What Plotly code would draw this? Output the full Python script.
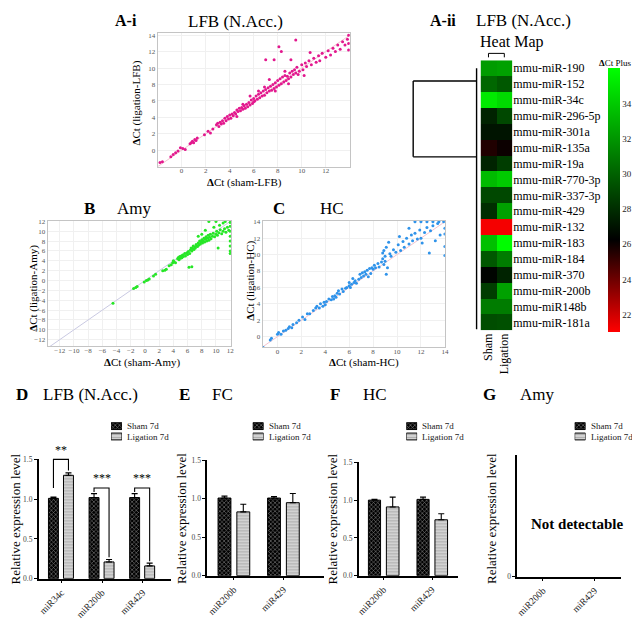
import plotly.graph_objects as go

W, H = 640, 619
FONT = "Liberation Serif, Times New Roman, serif"

# ---------------- data ----------------
# Panel A-i: LFB (N.Acc.)  (sham dCt, ligation dCt)
lfb_points = [
    (-1.8, -1.5), (-1.6, -1.4), (-0.9, -0.8), (-0.7, -0.5), (-0.5, -0.3), (-0.3, -0.1),
    (-0.1, 0.3), (0.1, 0.2), (0.3, 0.1), (0.7, 0.8), (0.8, 0.9), (0.9, 1.1), (1.0, 0.9),
    (1.1, 1.3), (1.2, 1.2), (1.3, 1.5), (1.9, 1.9), (2.2, 2.3), (2.4, 2.1), (2.6, 2.6),
    (2.9, 3.1), (3.0, 3.3), (3.1, 2.9), (3.2, 3.4), (3.3, 3.2), (3.4, 3.6), (3.5, 3.3),
    (3.6, 3.9), (3.7, 3.6), (3.8, 4.1), (3.9, 3.8), (4.0, 4.3), (4.1, 3.9), (4.2, 4.4),
    (4.3, 4.2), (4.4, 4.6), (4.5, 4.4), (4.6, 4.9), (4.7, 4.7), (4.8, 5.1), (4.9, 4.8),
    (5.0, 5.2), (5.1, 5.0), (5.2, 5.4), (5.3, 5.1), (5.4, 5.6), (5.5, 5.3), (5.6, 5.8),
    (5.7, 5.5), (5.8, 6.1), (5.9, 5.7), (6.0, 6.3), (6.0, 5.9), (6.1, 6.0), (6.2, 6.6),
    (6.3, 6.2), (6.4, 6.8), (6.5, 6.4), (6.6, 7.0), (6.7, 6.6), (6.8, 7.2), (6.9, 6.7),
    (7.0, 7.4), (7.1, 7.0), (7.2, 7.6), (7.3, 7.2), (7.4, 7.8), (7.5, 7.3), (7.6, 8.0),
    (7.7, 7.5), (7.8, 8.2), (7.9, 7.7), (8.0, 8.5), (8.1, 7.9), (8.2, 8.7), (8.3, 8.1),
    (8.4, 8.9), (8.5, 8.3), (8.6, 9.1), (8.7, 8.5), (8.8, 9.0), (8.9, 8.7), (9.0, 9.4),
    (9.1, 8.9), (9.2, 9.6), (9.3, 9.2), (9.4, 9.8), (9.5, 9.4), (9.6, 10.1), (9.8, 9.6),
    (10.0, 10.4), (10.1, 9.8), (10.3, 10.6), (10.4, 10.2), (10.6, 10.9), (10.8, 10.4),
    (11.0, 11.2), (11.2, 10.7), (11.4, 11.5), (11.5, 10.9), (11.7, 11.8), (12.0, 11.3),
    (12.2, 12.1), (12.4, 11.6), (12.6, 12.4), (12.8, 12.0), (13.0, 12.8), (13.2, 12.3),
    (13.4, 13.2), (13.6, 12.8), (13.8, 13.5), (13.9, 13.0), (13.9, 14.0), (13.9, 12.2),
    (7.0, 11.0), (7.7, 11.0), (8.1, 12.6), (8.3, 12.0), (9.5, 13.4), (9.1, 11.0),
    (6.4, 7.2), (5.7, 6.6), (7.3, 8.6), (8.6, 9.6), (9.7, 9.2), (10.7, 11.9),
    (4.6, 4.1), (5.1, 5.6), (6.9, 7.7), (7.8, 7.2), (8.9, 8.1), (10.2, 9.1),
]

# Panel B: Amy
amy_points = [
    (-4.5, -4.6), (-1.6, -1.6), (-1.3, -1.4), (-1.1, -1.2), (-0.1, -0.3), (0.2, 0.0),
    (0.4, 0.1), (0.6, 0.3), (1.2, 0.9), (1.5, 1.3), (2.5, 2.0), (2.8, 2.1), (3.0, 2.3),
    (3.4, 3.0), (3.7, 3.2), (3.9, 3.6), (4.1, 3.8), (4.0, 4.0), (4.3, 3.6), (4.6, 4.4),
    (4.7, 4.7), (4.8, 4.2), (4.9, 4.9), (5.0, 4.5), (5.1, 5.0), (5.2, 4.6), (5.3, 5.2),
    (5.4, 4.9), (5.6, 5.5), (5.7, 5.0), (5.9, 5.6), (6.0, 5.3), (6.1, 5.9), (6.3, 5.5),
    (6.4, 6.2), (6.5, 6.6), (6.6, 6.0), (6.7, 6.5), (6.8, 7.0), (6.9, 6.3), (7.0, 6.8),
    (7.1, 6.6), (7.2, 7.3), (7.3, 7.0), (7.4, 6.9), (7.5, 7.6), (7.6, 7.2), (7.7, 8.0),
    (7.8, 7.4), (7.9, 7.8), (8.0, 8.3), (8.1, 7.6), (8.2, 8.0), (8.3, 8.6), (8.4, 7.8),
    (8.5, 8.4), (8.6, 8.9), (8.7, 8.0), (8.8, 8.6), (8.9, 9.2), (9.0, 8.2), (9.1, 8.8),
    (9.2, 9.4), (9.3, 8.5), (9.5, 9.0), (9.6, 9.6), (9.8, 8.9), (10.0, 9.4), (10.1, 10.0),
    (10.2, 9.2), (10.4, 9.7), (10.6, 10.3), (10.8, 9.5), (11.0, 10.0), (11.2, 10.5),
    (11.4, 9.8), (11.6, 10.8), (11.8, 10.2), (12.0, 11.0), (12.0, 10.0), (12.0, 9.0),
    (12.0, 8.0), (12.0, 7.0), (12.0, 6.0), (12.0, 5.5), (12.0, 11.8), (9.0, 12.0),
    (10.0, 12.0), (10.5, 11.2), (11.0, 11.7), (8.0, 9.4), (7.5, 9.0), (8.5, 10.2),
    (6.2, 2.7), (6.6, 2.8), (10.3, 6.6), (9.7, 10.8), (11.3, 12.0),
]

# Panel C: HC
hc_points = [
    (-1.2, -1.3), (-0.6, -0.4), (-0.5, -0.2), (0.0, 0.3), (0.1, 0.5), (0.3, 0.3),
    (0.5, 0.7), (0.7, 0.8), (0.9, 1.0), (1.0, 1.2), (1.2, 1.1), (1.3, 1.5), (1.6, 1.7),
    (1.8, 2.0), (2.1, 2.4), (2.3, 2.1), (2.5, 2.8), (2.7, 2.8), (3.0, 3.2), (3.2, 3.5),
    (3.3, 3.7), (3.5, 3.5), (3.6, 4.0), (3.8, 3.7), (3.9, 4.2), (4.0, 3.9), (4.1, 4.3),
    (4.3, 4.6), (4.5, 4.5), (4.6, 4.9), (4.7, 4.6), (4.8, 5.0), (4.9, 4.8), (5.0, 5.3),
    (5.1, 5.6), (5.2, 5.2), (5.4, 5.8), (5.5, 5.5), (5.7, 5.9), (5.8, 6.0), (6.0, 6.2),
    (6.0, 6.6), (6.1, 6.0), (6.2, 6.4), (6.3, 7.1), (6.4, 6.6), (6.5, 6.8), (6.6, 6.5),
    (6.8, 7.0), (6.9, 7.6), (7.0, 7.2), (7.1, 7.8), (7.2, 7.4), (7.3, 7.9), (7.4, 7.6),
    (7.5, 8.1), (7.6, 7.3), (7.7, 8.3), (7.8, 7.7), (7.9, 8.4), (8.0, 8.2), (8.1, 8.7),
    (8.2, 8.4), (8.4, 8.9), (8.5, 8.5), (8.7, 9.1), (8.8, 9.5), (8.8, 10.2), (8.9, 10.5),
    (8.9, 8.8), (9.0, 9.8), (9.0, 9.2), (9.1, 10.9), (9.1, 7.6), (9.2, 8.4), (9.3, 11.5),
    (9.4, 10.1), (9.5, 9.8), (9.7, 10.6), (9.9, 10.3), (10.1, 11.2), (10.3, 10.5),
    (10.5, 11.6), (10.6, 10.9), (10.8, 12.0), (11.0, 11.3), (11.2, 12.4), (11.3, 11.7),
    (11.5, 12.6), (11.7, 11.9), (11.9, 13.0), (12.1, 11.4), (12.3, 12.7), (12.5, 13.3),
    (12.7, 10.2), (12.8, 12.9), (13.0, 13.5), (13.2, 11.7), (13.4, 13.8), (13.6, 12.4),
    (13.9, 14.0), (14.0, 13.2), (14.0, 12.5), (14.0, 11.0), (14.0, 9.9), (11.5, 14.0),
    (12.0, 14.0), (12.5, 14.0), (13.0, 14.0), (13.5, 14.0), (11.0, 13.2), (10.2, 12.2),
    (12.0, 12.0),
]

# Panel A-ii: heat map (dCt Plus)
heat_mirs = ["mmu-miR-190", "mmu-miR-152", "mmu-miR-34c", "mmu-miR-296-5p", "mmu-miR-301a",
             "mmu-miR-135a", "mmu-miR-19a", "mmu-miR-770-3p", "mmu-miR-337-3p", "mmu-miR-429",
             "mmu-miR-132", "mmu-miR-183", "mmu-miR-184", "mmu-miR-370", "mmu-miR-200b",
             "mmu-miR148b", "mmu-miR-181a"]
heat_cols = ["Sham", "Ligation"]
heat_sham = [32.2, 30.2, 35.2, 27.6, 27.0, 25.6, 27.6, 33.4, 29.0, 28.0, 21.2, 33.6, 29.6,
             26.4, 28.6, 31.0, 29.2]
heat_lig = [32.4, 29.6, 34.6, 29.0, 27.0, 26.0, 28.6, 34.0, 29.0, 32.4, 21.2, 35.9, 31.0,
            27.6, 32.4, 31.0, 29.3]
heat_ticks = [22, 24, 26, 28, 30, 32, 34]

# Panels D-G: relative expression level
legend_labels = ["Sham 7d", "Ligation 7d"]

d_genes = ["miR34c", "miR200b", "miR429"]
d_sham = [1.01, 1.02, 1.02]
d_sham_err = [0.015, 0.05, 0.05]
d_lig = [1.30, 0.21, 0.16]
d_lig_err = [0.03, 0.03, 0.035]
d_stars = ["**", "***", "***"]

e_genes = ["miR200b", "miR429"]
e_sham = [1.01, 1.01]
e_sham_err = [0.025, 0.02]
e_lig = [0.83, 0.95]
e_lig_err = [0.10, 0.12]

f_genes = ["miR200b", "miR429"]
f_sham = [1.00, 1.01]
f_sham_err = [0.01, 0.03]
f_lig = [0.91, 0.74]
f_lig_err = [0.13, 0.08]

g_genes = ["miR200b", "miR429"]


# ---------------- helpers ----------------
def px_x(a, b):
    return [a / W, b / W]


def px_y(top, bottom):
    return [1 - bottom / H, 1 - top / H]


def unzip(pts):
    return [p[0] for p in pts], [p[1] for p in pts]


fig = go.Figure()

# ---------------- scatter panels ----------------
scatter_specs = [
    ("x", "y", lfb_points, "#e2188e", "#f3c3cf", (-2.0, 14.0)),
    ("x2", "y2", amy_points, "#26e626", "#c9c9e2", (-13.7, 12.1)),
    ("x3", "y3", hc_points, "#2f93ea", "#f3c3cf", (-1.26, 14.1)),
]
for xa, ya, pts, col, dcol, rng in scatter_specs:
    fig.add_trace(go.Scatter(x=list(rng), y=list(rng), mode="lines",
                             line=dict(color=dcol, width=1), xaxis=xa, yaxis=ya,
                             showlegend=False, hoverinfo="skip"))
    xs, ys = unzip(pts)
    fig.add_trace(go.Scatter(x=xs, y=ys, mode="markers",
                             marker=dict(color=col, size=3, line=dict(width=0)),
                             xaxis=xa, yaxis=ya, showlegend=False))

# ---------------- heat map ----------------
heat_z = [[s, l] for s, l in zip(heat_sham, heat_lig)]
fig.add_trace(go.Heatmap(
    z=heat_z, x=heat_cols, y=heat_mirs, xaxis="x4", yaxis="y4",
    zmin=21, zmax=36,
    colorscale=[[0, "#ff0000"], [0.35, "#000000"], [1, "#00ff00"]],
    colorbar=dict(
        x=604 / W, xanchor="left", y=1 - 191 / H, yanchor="middle",
        len=264, lenmode="pixels", thickness=12, thicknessmode="pixels",
        tickvals=heat_ticks, ticks="", tickfont=dict(size=9, family=FONT, color="#222"),
        outlinewidth=0, xpad=0, ypad=0,
    ),
    showscale=True, hoverinfo="skip",
))

# ---------------- bar panels ----------------
SHAM_MARKER = dict(color="black", line=dict(color="black", width=1),
                   pattern=dict(shape="x", fgcolor="white", bgcolor="black", size=3, solidity=0.35))
LIG_MARKER = dict(color="#c9c9c9", line=dict(color="black", width=1),
                  pattern=dict(shape="-", fgcolor="#8a8a8a", bgcolor="#d2d2d2", size=3, solidity=0.35))
MARKERS = [SHAM_MARKER, LIG_MARKER]


def err(arr):
    return dict(type="data", array=arr, arrayminus=[0] * len(arr), symmetric=False,
                color="black", thickness=1.1, width=3)


bar_specs = [
    ("x5", "y5", d_sham, d_sham_err, d_lig, d_lig_err, (-0.32, 0.245), (0.05, 0.245)),
    ("x6", "y6", e_sham, e_sham_err, e_lig, e_lig_err, (-0.32, 0.26), (0.06, 0.26)),
    ("x7", "y7", f_sham, f_sham_err, f_lig, f_lig_err, (-0.31, 0.25), (0.06, 0.26)),
]
for xa, ya, sv, se, lv, le, so, lo in bar_specs:
    pos = list(range(len(sv)))
    fig.add_trace(go.Bar(x=pos, y=sv, offset=so[0], width=so[1], marker=SHAM_MARKER,
                         error_y=err(se), name=legend_labels[0], showlegend=False,
                         xaxis=xa, yaxis=ya))
    fig.add_trace(go.Bar(x=pos, y=lv, offset=lo[0], width=lo[1], marker=LIG_MARKER,
                         error_y=err(le), name=legend_labels[1], showlegend=False,
                         xaxis=xa, yaxis=ya))

# G: not detectable -> empty traces so that the axes are drawn
for k, lab in enumerate(legend_labels):
    fig.add_trace(go.Bar(x=[None], y=[None], marker=MARKERS[k], name=lab, showlegend=False,
                         xaxis="x8", yaxis="y8", hoverinfo="skip"))

# D significance brackets (overlay axes x9/y9, taller range so brackets are not clipped)
brk_top = [1.50, 1.14, 1.14]
brk_left_bottom = [1.14, 1.09, 1.09]
brk_right_bottom = [1.36, 0.27, 0.22]
sham_c = -0.32 + 0.245 / 2
lig_c = 0.05 + 0.245 / 2
bx, by = [], []
for i in range(len(d_genes)):
    bx += [i + sham_c, i + sham_c, i + lig_c, i + lig_c, None]
    by += [brk_left_bottom[i], brk_top[i], brk_top[i], brk_right_bottom[i], None]
fig.add_trace(go.Scatter(x=bx, y=by, mode="lines", line=dict(color="black", width=1.1),
                         xaxis="x9", yaxis="y9", showlegend=False, hoverinfo="skip"))

# Custom compact legends (swatch mini-axes x10..x13)
legend_left = [102, 245, 400, 570]
legend_axes = [("x10", "y10"), ("x11", "y11"), ("x12", "y12"), ("x13", "y13")]
for xa, ya in legend_axes:
    for k, lab in enumerate(legend_labels):
        fig.add_trace(go.Bar(x=[1], y=[k], orientation="h", width=0.66, marker=MARKERS[k],
                             name=lab, showlegend=False, xaxis=xa, yaxis=ya, hoverinfo="skip"))

# ---------------- layout ----------------
sc_axis = dict(showline=True, mirror=True, linecolor="#c4c4c4", linewidth=1,
               showgrid=True, gridcolor="#f0f0f0", zeroline=False, ticks="", ticklen=0,
               tickfont=dict(size=7, color="#555", family=FONT))

bar_x = dict(showline=True, linecolor="black", linewidth=1.5, ticks="outside", ticklen=3,
             tickwidth=1.2, tickcolor="black", tickangle=-45, showgrid=False, zeroline=False,
             tickfont=dict(size=9.5, color="#222", family=FONT))
bar_y = dict(showline=True, linecolor="black", linewidth=1.5, ticks="outside", ticklen=3,
             tickwidth=1.2, tickcolor="black", showgrid=False, zeroline=False,
             tickfont=dict(size=7.5, color="#444", family=FONT))
ytv = [0, 0.5, 1.0, 1.5]
ytt = ["0.0", "0.5", "1.0", "1.5"]

layout = dict(
    width=W, height=H, margin=dict(l=0, r=0, t=0, b=0),
    paper_bgcolor="white", plot_bgcolor="rgba(0,0,0,0)",
    font=dict(family=FONT, color="black"),
    barmode="overlay", showlegend=False,
    # A-i
    xaxis=dict(domain=px_x(149, 343), range=[-2.0, 14.0], anchor="y",
               tickvals=list(range(0, 13, 2)), ticklabelstandoff=-3, **sc_axis),
    yaxis=dict(domain=px_y(21, 157), range=[-2.0, 14.3], anchor="x",
               tickvals=list(range(0, 15, 2)), **sc_axis),
    # B
    xaxis2=dict(domain=px_x(38, 223), range=[-13.7, 12.1], anchor="y2",
                tickvals=list(range(-12, 13, 2)), ticklabelstandoff=-2, **sc_axis),
    yaxis2=dict(domain=px_y(212, 339), range=[-13.3, 12.1], anchor="x2",
                tickvals=list(range(-12, 13, 2)), **sc_axis),
    # C
    xaxis3=dict(domain=px_x(255, 439), range=[-1.24, 14.0], anchor="y3",
                tickvals=list(range(0, 15, 2)), ticklabelstandoff=-2, **sc_axis),
    yaxis3=dict(domain=px_y(212, 340), range=[-1.26, 14.1], anchor="x3",
                tickvals=list(range(0, 15, 2)), **sc_axis),
    # heat map
    xaxis4=dict(domain=px_x(475, 507), anchor="y4", side="bottom", tickangle=-90, ticks="",
                showline=False, showgrid=False, zeroline=False,
                tickfont=dict(size=12, family=FONT, color="black")),
    yaxis4=dict(domain=px_y(49, 323), anchor="x4", side="right", autorange="reversed", ticks="",
                showline=False, showgrid=False, zeroline=False,
                tickfont=dict(size=12, family=FONT, color="black")),
    # D
    xaxis5=dict(domain=px_x(29, 163), range=[-0.56, 2.71], anchor="y5",
                tickvals=list(range(len(d_genes))), ticktext=d_genes, **bar_x),
    yaxis5=dict(domain=px_y(454, 575), range=[0, 1.5], anchor="x5", tickvals=ytv, ticktext=ytt, **bar_y),
    # E
    xaxis6=dict(domain=px_x(199, 317), range=[-0.54, 1.82], anchor="y6",
                tickvals=list(range(len(e_genes))), ticktext=e_genes, **bar_x),
    yaxis6=dict(domain=px_y(455, 572), range=[0, 1.5], anchor="x6", tickvals=ytv, ticktext=ytt, **bar_y),
    # F
    xaxis7=dict(domain=px_x(352, 452), range=[-0.51, 1.53], anchor="y7",
                tickvals=list(range(len(f_genes))), ticktext=f_genes, **bar_x),
    yaxis7=dict(domain=px_y(457, 572), range=[0, 1.5], anchor="x7", tickvals=ytv, ticktext=ytt, **bar_y),
    # G
    xaxis8=dict(domain=px_x(512, 617), range=[-0.5, 1.52], anchor="y8",
                tickvals=list(range(len(g_genes))), ticktext=g_genes, **bar_x),
    yaxis8=dict(domain=px_y(450, 573), range=[0, 1], anchor="x8", tickvals=[0], ticktext=["0"], **bar_y),
    # D bracket overlay
    xaxis9=dict(domain=px_x(29, 163), range=[-0.56, 2.71], anchor="y9", visible=False),
    yaxis9=dict(domain=px_y(575 - 1.7 * 80.7, 575), range=[0, 1.7], anchor="x9", visible=False),
)
for (xa, ya), lx in zip(legend_axes, legend_left):
    xn = "xaxis" + xa[1:]
    yn = "yaxis" + ya[1:]
    layout[xn] = dict(domain=px_x(lx, lx + 11), range=[0, 1], anchor=ya, visible=False)
    layout[yn] = dict(domain=px_y(415, 436), range=[1.5, -0.5], anchor=xa, visible=False)

fig.update_layout(**layout)


# ---------------- text annotations ----------------
def ann(text, x, y, size, bold=False, xanchor="center", color="black", angle=0):
    t = f"<b>{text}</b>" if bold else text
    fig.add_annotation(text=t, x=x / W, y=1 - y / H, xref="paper", yref="paper",
                       xanchor=xanchor, yanchor="middle", showarrow=False, textangle=angle,
                       font=dict(size=size, family=FONT, color=color))


ann("A-i", 117, 9, 16, bold=True)
ann("LFB (N.Acc.)", 228, 10, 17)
ann("A-ii", 437, 9, 16, bold=True)
ann("LFB (N.Acc.)", 518, 9, 17)
ann("Heat Map", 507, 30, 16)
ann("<b>Δ</b>Ct Plus", 611, 52, 9)
ann("B", 80, 199, 17, bold=True)
ann("Amy", 126, 199, 17)
ann("C", 272, 199, 17, bold=True)
ann("HC", 325, 199, 17)
ann("D", 12, 388, 17, bold=True)
ann("LFB (N.Acc.)", 81, 388, 17)
ann("E", 176, 388, 17, bold=True)
ann("FC", 215, 388, 17)
ann("F", 328, 388, 17, bold=True)
ann("HC", 368, 388, 17)
ann("G", 484, 388, 17, bold=True)
ann("Amy", 532, 388, 17)
ann("Not detectable", 572, 520, 15, bold=True)

# scatter axis titles
ann("<b>Δ</b>Ct (sham-LFB)", 237, 173, 11)
ann("<b>Δ</b>Ct (ligation-LFB)", 128, 92, 11, angle=-90)
ann("<b>Δ</b>Ct (sham-Amy)", 134, 356, 11)
ann("<b>Δ</b>Ct (ligation-Amy)", 24, 280, 11, angle=-90)
ann("<b>Δ</b>Ct (sham-HC)", 357, 356, 11)
ann("<b>Δ</b>Ct (ligation-HC)", 242, 273, 11, angle=-90)

# bar y axis titles
for bx_px in [6, 173, 326, 486]:
    ann("Relative expression level", bx_px, 514, 13, angle=-90)

# legend labels
for lx in legend_left:
    for k, lab in enumerate(legend_labels):
        ann(lab, lx + 14, 420.3 + 10.5 * k, 9, xanchor="left", color="#222")

for i, s in enumerate(d_stars):
    fig.add_annotation(text=s, x=i + (sham_c + lig_c) / 2, y=brk_top[i] + 0.01, xref="x9", yref="y9",
                       xanchor="center", yanchor="bottom", showarrow=False,
                       font=dict(size=12, family=FONT, color="black"))


# ---------------- dendrogram & bracket (decoration) ----------------
def seg(x0, y0, x1, y1, w=1.4):
    fig.add_shape(type="line", xref="paper", yref="paper",
                  x0=x0 / W, y0=1 - y0 / H, x1=x1 / W, y1=1 - y1 / H,
                  line=dict(color="black", width=w))


seg(471, 57, 471, 322)
seg(407, 70, 471, 70)
seg(407, 70, 407, 147)
seg(407, 147, 471, 147)
seg(483, 46, 483, 42, 1)
seg(483, 42, 499, 42, 1)
seg(499, 42, 499, 46, 1)

fig.write_html("out.html")
